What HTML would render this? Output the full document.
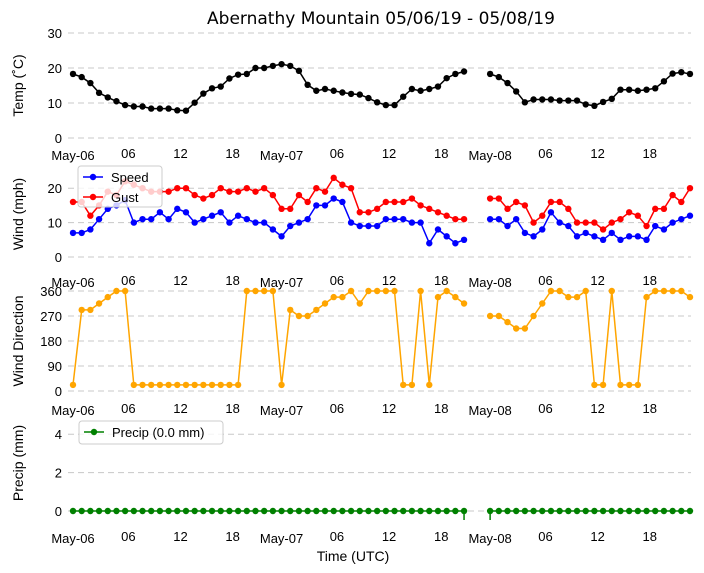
<!DOCTYPE html>
<html><head><meta charset="utf-8"><style>
html,body{margin:0;padding:0;background:#fff;}
svg{display:block;font-family:"Liberation Sans","DejaVu Sans",sans-serif;}
</style></head><body>
<svg id="chart" width="704" height="573" viewBox="0 0 704 573">
<text x="381" y="24" font-size="17" font-family="DejaVu Sans, sans-serif" text-anchor="middle">Abernathy Mountain 05/06/19 - 05/08/19</text>
<text x="353" y="561" font-size="14" text-anchor="middle">Time (UTC)</text>
</svg>
<script>
const temp1 = [18.3,17.4,15.7,12.9,11.6,10.5,9.4,9,9,8.4,8.4,8.4,7.9,7.8,10.1,12.7,14.2,14.7,17,18.1,18.3,20,20,20.6,21.1,20.6,19.2,15.2,13.5,14,13.5,13,12.6,12.4,11.4,10.2,9.4,9.4,11.8,14,13.5,14,14.7,17.1,18.3,19];
const temp2 = [18.3,17.4,15.7,13.3,10.2,11,11,11,10.7,10.7,10.7,9.6,9.2,10.3,11.2,13.8,13.8,13.5,13.8,14.2,16.2,18.4,18.8,18.3];
const speed1 = [7,7,8,11,14,15,16.5,10,11,11,13,11,14,13,10,11,12,13,10,12,11,10,10,8,6,9,10,11,15,15,17,16,10,9,9,9,11,11,11,10,10,4,8,6,4,5];
const speed2 = [11,11,9,11,7,6,8,13,10,9,6,7,6,5,7,5,6,6,5,9,8,10,11,12];
const gust1 = [16,16,12,15,19,18,22,21,20,19,19,19,20,20,18,17,18,20,19,19,20,19,20,18,14,14,18,16,20,19,23,21,20,13,13,14,16,16,16,17,15,14,13,12,11,11];
const gust2 = [17,17,14,16,15,10,12,16,16,14,10,10,10,8,10,11,13,12,9,14,14,18,16,20];
const dir1 = [22,292,292,315,338,360,360,22,22,22,22,22,22,22,22,22,22,22,22,22,360,360,360,360,22,292,270,270,292,315,338,338,360,315,360,360,360,360,22,22,360,22,338,360,338,315];
const dir2 = [270,270,248,225,225,270,315,360,360,338,338,360,22,22,360,22,22,22,338,360,360,360,360,338];
const precip1 = new Array(46).fill(0);
const precip2 = new Array(24).fill(0);
const start1 = 0, start2 = 48;
const tickHours = [0,6,12,18,24,30,36,42,48,54,60,66];
const tickLabels = ["May-06","06","12","18","May-07","06","12","18","May-08","06","12","18"];

const svg = document.getElementById('chart');
const NS = 'http://www.w3.org/2000/svg';
function mk(tag, attrs, parent){const e=document.createElementNS(NS,tag);for(const k in attrs)e.setAttribute(k,attrs[k]);(parent||svg).appendChild(e);return e;}
const xS = h => 73 + h*8.69;

const panels = [
 {name:'temp', y0:138, y1:33, min:0, max:30, ticks:[0,10,20,30], label:'Temp (˚C)', tickY:158},
 {name:'wind', y0:257, y1:171, min:0, max:25, ticks:[0,10,20], label:'Wind (mph)', tickY:285},
 {name:'direction', y0:391, y1:291, min:0, max:360, ticks:[0,90,180,270,360], label:'Wind Direction', tickY:413},
 {name:'precip', y0:511, y1:415, min:0, max:5, ticks:[0,2,4], label:'Precip (mm)', tickY:541}
];
panels.forEach(p=>{
  p.yS = v => p.y0 - (v-p.min)/(p.max-p.min)*(p.y0-p.y1);
  const g = mk('g',{});
  
  
  p.g = g;
  p.ticks.forEach(t=>{
    const y=p.yS(t);
    const l=mk('line',{x1:68,x2:691,y1:y,y2:y,stroke:'#c8c8c8','stroke-width':1,'stroke-dasharray':'6,4'},g);
    
    
    const tx=mk('text',{x:62,y:y+5,'font-size':13,'text-anchor':'end'},g);
    tx.textContent=t;
    
    
  });
  const cy=(p.y0+p.y1)/2;
  const yl=mk('text',{x:0,y:0,'font-size':14,'text-anchor':'middle',transform:`translate(23,${cy}) rotate(-90)`},g);
  yl.textContent=p.label;
  
  
  tickHours.forEach((h,i)=>{
    const isM = tickLabels[i].startsWith('May');
    const tx=mk('text',{x:xS(h)+(isM?0:-4),y:p.tickY+(isM?2:0),'font-size':13,'text-anchor':isM?'middle':'start'},g);
    tx.textContent=tickLabels[i];
    
    
  });
});

function series(p, data, start, color, name){
  const g=mk('g',{},p.g);
  
  
  const pts=data.map((v,i)=>xS(start+i).toFixed(1)+','+p.yS(v).toFixed(1)).join(' ');
  mk('polyline',{points:pts,fill:'none',stroke:color,'stroke-width':1.5},g);
  data.forEach((v,i)=>{
    const c=mk('circle',{cx:xS(start+i),cy:p.yS(v),r:3.2,fill:color},g);
    
    
  });
}
series(panels[0],temp1,start1,'#000','temp-line');
series(panels[0],temp2,start2,'#000','temp-line');
series(panels[1],speed1,start1,'#0000ff','speed-line');
series(panels[1],speed2,start2,'#0000ff','speed-line');
series(panels[1],gust1,start1,'#ff0000','gust-line');
series(panels[1],gust2,start2,'#ff0000','gust-line');
series(panels[2],dir1,start1,'#ffa500','direction-line');
series(panels[2],dir2,start2,'#ffa500','direction-line');
series(panels[3],precip1,start1,'#008000','precip-line');
series(panels[3],precip2,start2,'#008000','precip-line');
[start1+precip1.length-1, start2].forEach(h=>{
  const l=mk('line',{x1:xS(h),x2:xS(h),y1:511,y2:520,stroke:'#008000','stroke-width':1.5},panels[3].g);
  
  
});

function legend(x,y,w,h,entries,name){
  const g=mk('g',{});
  
  
  mk('rect',{x:x,y:y,width:w,height:h,fill:'rgba(255,255,255,0.8)',stroke:'#ccc',rx:3},g);
  entries.forEach((e,i)=>{
    const yy=y+11+i*20;
    mk('line',{x1:x+5,x2:x+25,y1:yy,y2:yy,stroke:e[1],'stroke-width':1.5},g);
    mk('circle',{cx:x+15,cy:yy,r:3.2,fill:e[1]},g);
    const t=mk('text',{x:x+33,y:yy+5,'font-size':13},g);
    t.textContent=e[0];
    
    
  });
}
legend(78,166,84,41,[['Speed','#0000ff'],['Gust','#ff0000']],'wind-legend');
legend(79,421,144,23,[['Precip (0.0 mm)','#008000']],'precip-legend');
</script>
</body></html>
